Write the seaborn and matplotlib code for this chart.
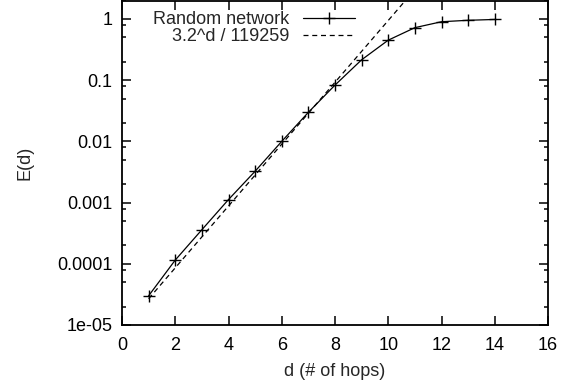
import numpy as np
import pandas as pd
import matplotlib
matplotlib.use("Agg")
import matplotlib.pyplot as plt
import matplotlib.ticker as mticker
import seaborn as sns

# ---- data ----
hops = [1, 2, 3, 4, 5, 6, 7, 8, 9, 10, 11, 12, 13, 14]
expansion = [3.0e-5, 1.15e-4, 3.6e-4, 1.12e-3, 3.25e-3, 1.0e-2, 2.98e-2,
             8.3e-2, 0.215, 0.45, 0.72, 0.90, 0.95, 0.98]
fit_base = 3.2
fit_div = 119259
series_label = "Random network"
fit_label = "3.2^d / 119259"
x_ticks = [0, 2, 4, 6, 8, 10, 12, 14, 16]
y_ticks = [1e-5, 1e-4, 1e-3, 1e-2, 1e-1, 1]
y_tick_labels = ["1e-05", "0.0001", "0.001", "0.01", "0.1", "1"]

sns.set_theme(style="ticks")
plt.rcParams["font.family"] = ["Liberation Sans", "DejaVu Sans"]
plt.rcParams["font.size"] = 13

fig = plt.figure(figsize=(5.74, 3.90), dpi=100)
ax = fig.add_axes([122 / 574, 1 - 325 / 390, (548 - 122) / 574, (325 - 0.5) / 390])

df = pd.DataFrame({"d": hops, "E": expansion})
fit_x = np.linspace(min(hops), max(hops), 200)
fit_df = pd.DataFrame({"d": fit_x, "E": fit_base ** fit_x / fit_div})

sns.lineplot(data=df, x="d", y="E", ax=ax, color="black", linewidth=0.9,
             marker="+", markersize=9, markeredgewidth=1.0,
             markeredgecolor="black", label=series_label)
sns.lineplot(data=fit_df, x="d", y="E", ax=ax, color="black", linewidth=0.9,
             linestyle=(0, (4, 3)), label=fit_label)

ax.set_yscale("log")
ax.set_xlim(0, 16)
ax.set_ylim(1e-5, 2)

ax.xaxis.set_major_locator(mticker.FixedLocator(x_ticks))
ax.xaxis.set_minor_locator(mticker.NullLocator())
ax.yaxis.set_major_locator(mticker.FixedLocator(y_ticks))
ax.yaxis.set_major_formatter(mticker.FixedFormatter(y_tick_labels))
ax.yaxis.set_minor_locator(mticker.LogLocator(base=10, subs=(2, 5, 8), numticks=20))
ax.yaxis.set_minor_formatter(mticker.NullFormatter())

for s in ax.spines.values():
    s.set_visible(True)
    s.set_linewidth(1.3)
    s.set_color("black")

ax.tick_params(which="both", direction="in", top=True, right=True,
               colors="black", labelsize=13)
ax.tick_params(which="major", length=6.3, width=1.1)
ax.tick_params(which="minor", length=3.0, width=1.1)
ax.tick_params(axis="x", which="major", pad=9)
ax.tick_params(axis="y", which="major", pad=7)

ax.set_xlabel("d (# of hops)", fontsize=13, labelpad=6)
ax.set_ylabel("E(d)", fontsize=13, labelpad=17)

leg = ax.legend(loc="upper right", bbox_to_anchor=((355 - 122) / 426, 1 - 11 / 325),
                frameon=False, markerfirst=False, borderpad=0, borderaxespad=0,
                handlelength=2.9, handletextpad=0.75, labelspacing=0.0,
                fontsize=13)

fig.savefig("out.png", dpi=100, facecolor="white")
